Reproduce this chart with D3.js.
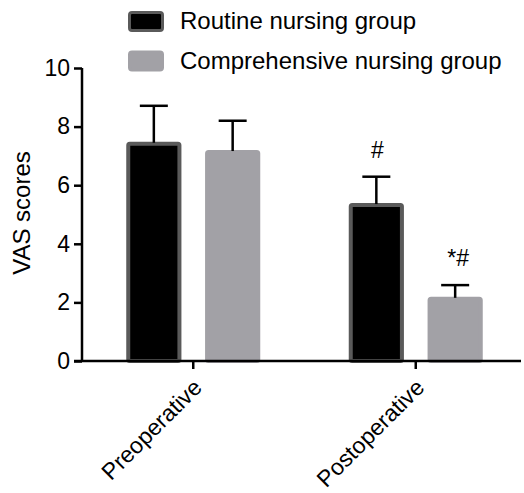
<!DOCTYPE html>
<html><head><meta charset="utf-8">
<script src="https://cdn.jsdelivr.net/npm/d3@7"></script>
<style>
html,body{margin:0;padding:0;background:#fff;}
text{font-family:"Liberation Sans",Arial,Helvetica,sans-serif;fill:#000;}
</style></head>
<body>
<svg id="c" width="524" height="493"></svg>
<script>
const categories = ["Preoperative", "Postoperative"];
const seriesNames = ["Routine nursing group", "Comprehensive nursing group"];
const routineMeans = [7.48, 5.39];
const routineSD = [1.23, 0.90];
const comprehensiveMeans = [7.20, 2.19];
const comprehensiveSD = [1.00, 0.40];
const annotations = [["", ""], ["#", "*#"]];
const yTicks = [0, 2, 4, 6, 8, 10];

const fills = ["#000000", "#a2a1a6"];
const strokes = ["#5a5a5a", "#a2a1a6"];

const svg = d3.select("#c");
const y = d3.scaleLinear().domain([0, 10]).range([361, 68]);
const x0 = d3.scaleBand().domain(categories).range([82, 527]);
const x1 = d3.scaleBand().domain(seriesNames).range([0, 134]).paddingInner(0.3);

const data = [];
categories.forEach((c, i) => {
  data.push({c, s: seriesNames[0], si: 0, v: routineMeans[i], sd: routineSD[i], a: annotations[i][0]});
  data.push({c, s: seriesNames[1], si: 1, v: comprehensiveMeans[i], sd: comprehensiveSD[i], a: annotations[i][1]});
});
const bx = d => x0(d.c) + x0.bandwidth() / 2 - 67 + x1(d.s);
const sw = 4;

// bars
svg.append("g").selectAll("rect").data(data).join("rect")
  .attr("x", d => bx(d) + sw / 2)
  .attr("y", d => y(d.v) + sw / 2)
  .attr("width", x1.bandwidth() - sw)
  .attr("height", d => y(0) - y(d.v) - sw / 2)
  .attr("rx", 1.5)
  .attr("fill", d => fills[d.si])
  .attr("stroke", d => strokes[d.si])
  .attr("stroke-width", sw);

// error bars
const eb = svg.append("g").attr("stroke", "#000").attr("stroke-width", 2.5);
data.forEach(d => {
  const cx = bx(d) + x1.bandwidth() / 2;
  eb.append("line").attr("x1", cx).attr("x2", cx).attr("y1", y(d.v) + 1).attr("y2", y(d.v + d.sd));
  eb.append("line").attr("x1", cx - 14).attr("x2", cx + 14).attr("y1", y(d.v + d.sd)).attr("y2", y(d.v + d.sd));
});

// annotations
svg.append("g").selectAll("text").data(data.filter(d => d.a)).join("text")
  .attr("x", d => bx(d) + x1.bandwidth() / 2 + (d.a.length > 1 ? 3 : 1))
  .attr("y", d => y(d.v + d.sd) - 19)
  .attr("text-anchor", "middle")
  .style("font-size", "23px")
  .text(d => d.a);

// y axis
const yAxis = svg.append("g").attr("transform", "translate(82,0)")
  .call(d3.axisLeft(y).tickValues(yTicks).tickSize(8).tickPadding(4).tickFormat(d3.format("d")));
yAxis.select(".domain").attr("d", `M0,${y(10)}V${y(0)}`).attr("stroke-width", 2.5);
yAxis.selectAll(".tick line").attr("stroke-width", 2.5);
yAxis.selectAll(".tick text").style("font-size", "23px").style("font-family", '"Liberation Sans",Arial,sans-serif').attr("fill", "#000");

// x axis
const xAxis = svg.append("g").attr("transform", `translate(0,${y(0)})`)
  .call(d3.axisBottom(x0).tickSize(8).tickPadding(0));
xAxis.select(".domain").attr("d", "M74,0H521").attr("stroke-width", 2.5);
xAxis.selectAll(".tick line").attr("stroke-width", 2.5);
xAxis.selectAll(".tick text")
  .style("font-size", "23px").style("font-family", '"Liberation Sans",Arial,sans-serif').attr("fill", "#000")
  .attr("text-anchor", "end")
  .attr("dy", null)
  .attr("y", 0)
  .attr("transform", "translate(10,28) rotate(-45)");

// y label
svg.append("text")
  .attr("transform", "translate(30,213) rotate(-90)")
  .attr("text-anchor", "middle")
  .style("font-size", "24px")
  .text("VAS scores");

// legend
const lg = svg.append("g");
seriesNames.forEach((s, i) => {
  const ly = 11 + i * 39.5;
  lg.append("rect").attr("x", 129.5).attr("y", ly + 1.5).attr("width", 33).attr("height", 18)
    .attr("rx", 2.5).attr("fill", fills[i]).attr("stroke", strokes[i]).attr("stroke-width", 3);
  lg.append("text").attr("x", 180).attr("y", ly + 18).style("font-size", "24px").text(s);
});
</script>
</body></html>
